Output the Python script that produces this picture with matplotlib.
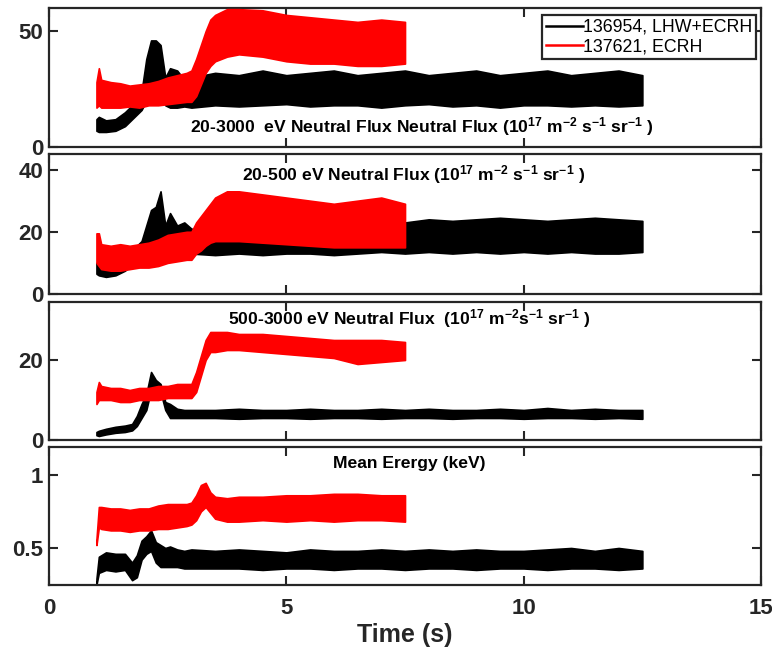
import matplotlib
matplotlib.use("Agg")
import matplotlib.pyplot as plt

plt.rcParams['font.family'] = ['Liberation Sans', 'DejaVu Sans']
plt.rcParams['font.weight'] = 'bold'
plt.rcParams['mathtext.fontset'] = 'custom'
plt.rcParams['mathtext.default'] = 'regular'

# ---------------------------------------------------------------- data
# Shot labels
shot_a = "136954, LHW+ECRH"
shot_b = "137621, ECRH"

# Time knots (s) for the envelope of each noisy trace
t_a = [1.0, 1.05, 1.2, 1.4, 1.6, 1.75, 1.85, 1.95, 2.05, 2.15, 2.25, 2.35,
       2.45, 2.55, 2.7, 2.85, 3.0, 3.5, 4.0, 4.5, 5.0, 5.5, 6.0, 6.5, 7.0,
       7.5, 8.0, 8.5, 9.0, 9.5, 10.0, 10.5, 11.0, 11.5, 12.0, 12.5]
t_b = [1.0, 1.05, 1.1, 1.3, 1.5, 1.7, 1.9, 2.1, 2.3, 2.5, 2.7, 2.9, 3.0,
       3.1, 3.2, 3.3, 3.4, 3.5, 3.75, 4.0, 4.5, 5.0, 5.5, 6.0, 6.5, 7.0, 7.5]

# 20-3000 eV neutral flux (1e17 m^-2 s^-1 sr^-1): lower / upper envelope
flux_all_a_lo = [7, 6.5, 6.5, 7, 9, 12, 14, 16, 20, 28, 28, 24, 18, 17, 17,
                 17.5, 17, 18, 17.5, 18, 18.5, 17.5, 18, 18, 17, 18, 18.5,
                 17.5, 18, 17, 18, 18, 17.5, 18, 17.5, 18]
flux_all_a_hi = [12, 13, 11.5, 12, 15, 18, 21, 24, 38, 46, 46, 44, 30, 34,
                 33, 29, 30, 32, 31, 33, 31, 32, 33, 31, 32, 33, 31, 32, 33,
                 31, 32, 33, 31, 32, 33, 31]
flux_all_b_lo = [17, 18, 17, 17, 17, 17.5, 17, 18, 18, 18.5, 19, 19.5, 19.5,
                 22, 27, 32, 35, 37, 39, 40, 39, 37, 36, 36, 35, 35, 36]
flux_all_b_hi = [28, 34, 29, 28, 27.5, 26.5, 27, 27.5, 28.5, 30, 31, 32, 33,
                 38, 44, 50, 55, 57, 59.5, 59.5, 59, 57, 56, 55, 54, 55, 54]

# 20-500 eV neutral flux
flux_low_a_lo = [6.5, 6, 5.5, 6, 7.5, 9.5, 11, 13, 16, 16, 16, 15, 16, 17, 17,
                 16, 13, 12.5, 13, 12.5, 13, 13, 12.5, 13, 13.5, 13, 13.5, 13,
                 13.5, 13, 13.5, 13, 13.5, 13, 13, 13.5]
flux_low_a_hi = [10, 10.5, 9, 9.5, 12, 14, 15.5, 17, 22, 27, 28, 33, 22, 26,
                 22, 23, 21, 20, 20, 20.5, 20, 21, 20.5, 21, 22, 23, 24, 23.5,
                 24, 24.5, 24, 23.5, 24, 24.5, 24, 23.5]
flux_low_b_lo = [10, 9, 8, 7.5, 7.5, 8, 8.5, 8.5, 9, 10, 10.5, 11, 11, 13, 14,
                 15.5, 16.5, 17, 17, 17, 16.5, 16, 15.5, 15, 15, 15, 15]
flux_low_b_hi = [19.5, 19.5, 16, 15.5, 16, 15.5, 16, 16.5, 17.5, 19, 19.5, 20,
                 20, 23, 25, 27, 29, 31, 33, 33, 32, 31, 30, 29, 30, 31, 29]

# 500-3000 eV neutral flux
flux_high_a_lo = [1.2, 1.0, 1.4, 1.8, 2.0, 2.4, 3.5, 5.5, 7.5, 12.5, 13, 12,
                  7.5, 5.5, 5.5, 5.5, 5.5, 5.5, 5.3, 5.5, 5.5, 5.3, 5.5, 5.5,
                  5.3, 5.5, 5.5, 5.3, 5.5, 5.5, 5.3, 5.5, 5.5, 5.3, 5.5, 5.3]
flux_high_a_hi = [2.0, 2.3, 2.8, 3.3, 3.6, 4.0, 6.0, 9.0, 11.5, 17, 15, 14,
                  9.5, 9, 7.8, 7.5, 7.5, 7.5, 7.8, 7.5, 7.5, 7.8, 7.5, 7.5,
                  7.8, 7.5, 7.8, 7.5, 7.5, 7.8, 7.5, 8.0, 7.5, 7.8, 7.5, 7.5]
flux_high_b_lo = [9, 10, 10, 10, 9.5, 9.5, 10, 10, 10, 10.5, 10.5, 10.5, 10.5,
                  12, 16, 20, 22, 22, 22.5, 22.5, 22, 21.5, 21, 20.5, 19,
                  19.5, 20]
flux_high_b_hi = [12, 14.5, 13.5, 13, 13, 12.5, 13, 13, 13.5, 13.5, 14, 14,
                  14, 17, 21, 25, 27, 27, 27, 26.5, 26.5, 26, 25.5, 25, 25,
                  25, 24.5]

# Mean energy (keV)
energy_a_lo = [0.25, 0.33, 0.35, 0.34, 0.35, 0.28, 0.30, 0.42, 0.46, 0.48,
               0.40, 0.37, 0.37, 0.37, 0.37, 0.36, 0.36, 0.36, 0.36, 0.35,
               0.36, 0.36, 0.35, 0.36, 0.36, 0.35, 0.36, 0.36, 0.35, 0.36,
               0.36, 0.35, 0.36, 0.36, 0.35, 0.36]
energy_a_hi = [0.29, 0.44, 0.47, 0.46, 0.46, 0.40, 0.45, 0.55, 0.58, 0.62,
               0.54, 0.52, 0.50, 0.51, 0.49, 0.48, 0.49, 0.48, 0.49, 0.48,
               0.47, 0.49, 0.48, 0.48, 0.49, 0.48, 0.49, 0.48, 0.49, 0.48,
               0.48, 0.49, 0.50, 0.48, 0.50, 0.48]
energy_b_lo = [0.52, 0.64, 0.63, 0.62, 0.62, 0.61, 0.62, 0.62, 0.63, 0.63,
               0.64, 0.65, 0.66, 0.69, 0.75, 0.78, 0.74, 0.70, 0.68, 0.68,
               0.69, 0.68, 0.69, 0.68, 0.69, 0.69, 0.68]
energy_b_hi = [0.56, 0.78, 0.78, 0.77, 0.77, 0.76, 0.77, 0.77, 0.79, 0.80,
               0.80, 0.80, 0.81, 0.86, 0.93, 0.945, 0.88, 0.85, 0.84, 0.85,
               0.85, 0.86, 0.86, 0.87, 0.87, 0.86, 0.86]

panel_titles = [
    r"20-3000  eV Neutral Flux Neutral Flux (10$^{17}$ m$^{-2}$ s$^{-1}$ sr$^{-1}$ )",
    r"20-500 eV Neutral Flux (10$^{17}$ m$^{-2}$ s$^{-1}$ sr$^{-1}$ )",
    r"500-3000 eV Neutral Flux  (10$^{17}$ m$^{-2}$s$^{-1}$ sr$^{-1}$ )",
    "Mean Erergy (keV)",
]
y_ticks = [[0, 50], [0, 20, 40], [0, 20], [0.5, 1]]
y_tick_labels = [["0", "50"], ["0", "20", "40"], ["0", "20"], ["0.5", "1"]]
y_limits = [(0, 60), (0, 45), (0, 34.5), (0.247, 1.19)]
x_ticks = [0, 5, 10, 15]

# ---------------------------------------------------------------- layout
color_a = "#000000"
color_b = "#ff0000"
spine_color = "#262626"

fig = plt.figure(figsize=(7.72, 6.50), dpi=100)
W, H = 772, 650
left, right = 49, 761
panel_px = [(8, 147), (154, 294), (302, 440), (447, 585)]
title_pos = [(0.198, 0.144), (0.271, 0.85), (0.251, 0.877), (0.399, 0.877)]
title_size = 12.6

series = [
    (flux_all_a_lo, flux_all_a_hi, flux_all_b_lo, flux_all_b_hi),
    (flux_low_a_lo, flux_low_a_hi, flux_low_b_lo, flux_low_b_hi),
    (flux_high_a_lo, flux_high_a_hi, flux_high_b_lo, flux_high_b_hi),
    (energy_a_lo, energy_a_hi, energy_b_lo, energy_b_hi),
]

axes = []
for i, (top, bot) in enumerate(panel_px):
    ax = fig.add_axes([left / W, 1 - bot / H, (right - left) / W, (bot - top) / H])
    axes.append(ax)
    a_lo, a_hi, b_lo, b_hi = series[i]

    ax.fill_between(t_a, a_lo, a_hi, color=color_a, lw=1.2, zorder=2)
    ax.fill_between(t_b, b_lo, b_hi, color=color_b, lw=1.2, zorder=3)
    if i == 0:
        ax.plot([], [], color=color_a, lw=1.8, label=shot_a)
        ax.plot([], [], color=color_b, lw=1.8, label=shot_b)

    ax.set_xlim(0, 15)
    ax.set_ylim(*y_limits[i])
    ax.set_xticks(x_ticks)
    ax.set_yticks(y_ticks[i])
    ax.set_yticklabels(y_tick_labels[i])
    ax.tick_params(direction="in", length=6.5, width=1.5, color=spine_color,
                   top=True, right=True, labelsize=16, pad=4,
                   labelcolor=spine_color)
    ax.tick_params(axis="x", pad=9)
    for lab in ax.get_yticklabels() + ax.get_xticklabels():
        lab.set_fontweight("bold")
    if i < 3:
        ax.tick_params(axis="x", labelbottom=False)
    for sp in ax.spines.values():
        sp.set_color(spine_color)
        sp.set_linewidth(1.6)

    ax.text(title_pos[i][0], title_pos[i][1], panel_titles[i],
            transform=ax.transAxes, ha="left", va="center",
            fontsize=title_size, fontweight="bold", zorder=5)

leg = axes[0].legend(loc="upper right", bbox_to_anchor=(0.9925, 0.948),
                     fontsize=12.8, frameon=True, fancybox=False,
                     framealpha=1, edgecolor=spine_color, handlelength=2.1,
                     handletextpad=0.0, borderpad=0.2, labelspacing=0.15,
                     borderaxespad=0)
leg.get_frame().set_linewidth(1.6)
for txt in leg.get_texts():
    txt.set_fontweight("normal")

axes[3].set_xlabel("Time (s)", fontsize=18, fontweight="bold", color=spine_color)
axes[3].xaxis.set_label_coords(0.5, -0.275)

fig.savefig("out.png", dpi=100)
